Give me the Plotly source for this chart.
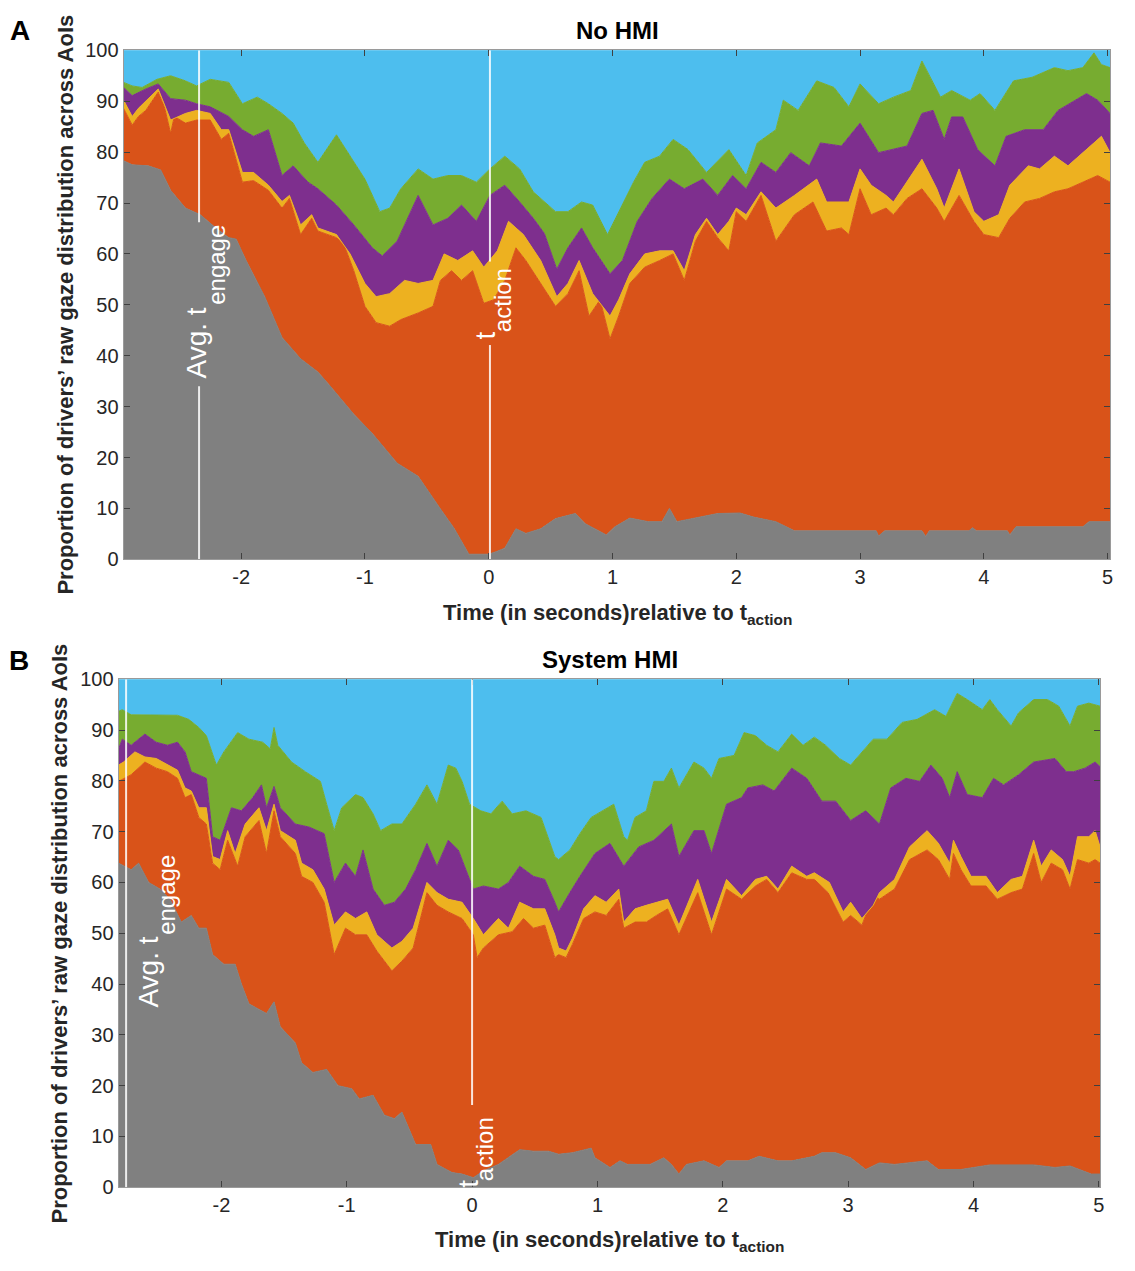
import plotly.graph_objects as go

# ---------------- Data (cumulative stack boundaries, % of drivers) ----------------
# Panel A: No HMI  -- (time s, upper boundary of each AoI layer)
A_gray = [(-2.95,78.3),(-2.88,77.5),(-2.75,77.3),(-2.65,76.5),(-2.57,72.5),(-2.45,69.0),(-2.33,67.7),(-2.2,65.0),
          (-2.1,63.2),(-2.04,62.9),(-1.96,58.7),(-1.81,51.6),(-1.67,43.6),(-1.52,39.4),(-1.38,36.8),(-1.29,34.3),
          (-1.09,28.5),(-0.94,24.7),(-0.74,18.9),(-0.57,16.3),(-0.39,9.9),(-0.28,6.1),(-0.16,1.0),(0.0,1.0),
          (0.06,1.5),(0.13,2.2),(0.22,6.0),(0.3,5.1),(0.42,6.0),(0.54,8.0),(0.7,9.0),(0.78,7.0),(0.95,4.8),
          (1.02,6.4),(1.14,8.1),(1.29,7.4),(1.4,7.4),(1.46,10.0),(1.52,7.4),(1.67,8.1),(1.85,9.0),(2.03,9.1),
          (2.14,8.3),(2.32,7.4),(2.47,5.6),(3.13,5.6),(3.15,4.6),(3.2,5.6),(3.5,5.6),(3.53,4.5),(3.56,5.6),
          (3.88,5.6),(3.91,6.2),(3.94,5.6),(4.19,5.6),(4.21,4.8),(4.26,6.4),(4.8,6.4),(4.85,7.4),(5.02,7.4)]
A_orange = [(-2.95,88.6),(-2.88,85.3),(-2.83,87.0),(-2.77,88.2),(-2.67,91.8),(-2.62,88.9),(-2.57,83.7),(-2.54,87.0),
            (-2.45,85.7),(-2.36,86.3),(-2.25,86.3),(-2.16,82.5),(-2.1,83.7),(-1.99,74.1),(-1.9,74.4),(-1.78,72.5),
            (-1.67,69.0),(-1.61,70.9),(-1.52,63.8),(-1.43,67.0),(-1.38,64.5),(-1.23,63.2),(-1.17,61.9),(-1.09,56.7),
            (-1.0,49.7),(-0.91,46.5),(-0.8,45.8),(-0.71,47.1),(-0.57,48.4),(-0.45,49.7),(-0.39,54.8),(-0.3,56.7),
            (-0.22,54.8),(-0.13,56.7),(-0.04,50.3),(0.04,51.0),(0.13,54.8),(0.22,61.2),(0.3,58.7),(0.42,54.2),
            (0.54,49.7),(0.64,52.2),(0.73,56.7),(0.81,47.8),(0.9,51.0),(0.98,43.3),(1.05,47.8),(1.14,54.2),
            (1.26,57.4),(1.38,58.7),(1.49,60.0),(1.58,54.8),(1.67,62.5),(1.76,66.4),(1.85,63.2),(1.94,60.6),
            (2.0,68.3),(2.08,66.4),(2.2,71.5),(2.32,62.5),(2.47,67.7),(2.62,70.2),(2.73,64.5),(2.85,65.1),
            (2.91,63.8),(3.0,72.8),(3.09,67.7),(3.21,69.0),(3.27,67.7),(3.38,70.9),(3.5,72.8),(3.62,69.0),
            (3.68,66.4),(3.8,71.5),(3.92,66.4),(4.0,63.8),(4.12,63.2),(4.21,67.0),(4.33,70.2),(4.45,70.9),
            (4.57,72.2),(4.68,72.8),(4.8,74.1),(4.92,75.4),(5.02,74.1)]
A_yellow = [(-2.95,90.2),(-2.88,87.0),(-2.83,88.6),(-2.67,92.4),(-2.57,86.3),(-2.45,87.6),(-2.36,88.2),(-2.25,87.6),
            (-2.16,84.4),(-2.1,84.4),(-1.99,76.0),(-1.9,76.0),(-1.78,73.5),(-1.67,70.3),(-1.61,71.5),(-1.52,65.7),
            (-1.43,67.7),(-1.38,65.1),(-1.23,63.8),(-1.12,60.0),(-1.0,54.2),(-0.91,51.6),(-0.8,52.2),(-0.68,54.8),
            (-0.57,54.2),(-0.45,54.8),(-0.36,60.0),(-0.25,58.7),(-0.13,60.6),(-0.04,57.4),(0.07,60.6),(0.16,66.4),
            (0.28,63.8),(0.42,58.7),(0.55,51.6),(0.64,54.2),(0.73,58.7),(0.84,52.2),(0.98,47.8),(1.05,51.0),
            (1.14,56.1),(1.26,60.0),(1.38,60.6),(1.49,60.6),(1.58,56.7),(1.67,63.8),(1.76,67.0),(1.85,63.8),
            (1.94,66.4),(2.0,69.0),(2.08,67.7),(2.2,72.2),(2.32,69.0),(2.47,71.5),(2.65,74.7),(2.73,70.2),
            (2.91,70.2),(3.0,76.7),(3.09,73.5),(3.21,71.5),(3.27,70.2),(3.38,74.1),(3.5,78.6),(3.62,72.8),
            (3.68,69.0),(3.8,76.7),(3.92,68.3),(4.0,66.4),(4.12,67.7),(4.21,73.5),(4.36,77.3),(4.45,76.7),
            (4.57,79.2),(4.68,77.3),(4.8,79.9),(4.95,83.1),(5.02,79.9)]
A_purple = [(-2.95,92.7),(-2.88,91.1),(-2.77,92.4),(-2.67,93.4),(-2.57,90.5),(-2.45,90.2),(-2.36,89.5),(-2.25,88.9),
            (-2.1,87.0),(-1.99,84.4),(-1.9,83.1),(-1.78,84.4),(-1.67,75.4),(-1.58,77.3),(-1.46,74.1),(-1.38,72.8),
            (-1.23,69.6),(-1.09,65.7),(-0.94,61.2),(-0.86,59.6),(-0.74,62.5),(-0.62,69.0),(-0.57,71.5),(-0.45,65.7),
            (-0.33,67.0),(-0.22,69.6),(-0.1,66.4),(0.01,71.5),(0.13,73.5),(0.25,70.2),(0.36,67.0),(0.45,64.0),
            (0.55,57.0),(0.64,61.2),(0.75,65.1),(0.84,61.2),(0.98,56.1),(1.08,58.7),(1.2,66.4),(1.32,70.9),
            (1.46,74.7),(1.58,72.8),(1.73,74.7),(1.85,71.5),(1.97,75.4),(2.08,72.8),(2.2,78.0),(2.32,76.0),
            (2.44,79.9),(2.59,77.3),(2.68,81.8),(2.85,81.2),(3.0,85.7),(3.15,79.9),(3.27,80.5),(3.38,81.2),
            (3.5,87.6),(3.59,88.2),(3.68,82.5),(3.74,86.9),(3.83,86.9),(3.95,80.5),(4.09,77.3),(4.18,83.1),
            (4.33,84.4),(4.48,84.4),(4.6,88.2),(4.74,90.2),(4.83,91.5),(4.92,90.2),(5.02,87.6)]
A_green = [(-2.95,93.7),(-2.88,93.0),(-2.8,92.7),(-2.68,94.3),(-2.57,95.0),(-2.45,94.0),(-2.36,93.0),(-2.25,94.3),
           (-2.1,93.7),(-1.99,89.5),(-1.87,90.8),(-1.78,89.5),(-1.67,87.6),(-1.58,85.7),(-1.49,81.8),(-1.38,78.0),
           (-1.23,83.4),(-1.12,79.2),(-1.0,74.7),(-0.88,68.3),(-0.8,69.0),(-0.71,72.8),(-0.57,76.7),(-0.45,74.7),
           (-0.33,75.4),(-0.22,75.4),(-0.1,74.1),(0.01,76.7),(0.13,79.2),(0.25,76.7),(0.36,72.2),(0.54,68.3),
           (0.64,68.3),(0.75,70.2),(0.84,69.6),(0.96,63.8),(1.05,68.3),(1.17,74.1),(1.26,78.0),(1.38,79.2),
           (1.49,82.5),(1.61,80.5),(1.76,76.0),(1.94,80.5),(2.08,75.4),(2.17,81.8),(2.32,84.4),(2.38,90.2),
           (2.5,88.2),(2.65,94.0),(2.79,92.7),(2.91,88.9),(3.0,93.4),(3.15,89.5),(3.27,90.8),(3.41,92.1),
           (3.5,97.9),(3.65,90.8),(3.74,92.1),(3.89,90.2),(3.97,91.5),(4.09,88.2),(4.24,94.0),(4.39,94.7),
           (4.57,96.6),(4.68,96.0),(4.8,96.6),(4.89,99.5),(4.95,97.2),(5.02,96.6)]

# Panel B: System HMI
B_gray = [(-2.82,63.8),(-2.72,62.5),(-2.66,63.8),(-2.58,60.0),(-2.49,58.7),(-2.41,56.7),(-2.32,52.2),(-2.24,53.5),
          (-2.18,51.0),(-2.12,51.0),(-2.07,45.8),(-1.98,43.9),(-1.89,43.9),(-1.84,40.0),(-1.78,36.1),(-1.64,34.2),
          (-1.58,36.5),(-1.53,31.6),(-1.41,28.4),(-1.36,24.5),(-1.27,22.6),(-1.16,23.2),(-1.07,20.0),(-0.96,19.4),
          (-0.90,17.4),(-0.79,18.1),(-0.70,14.2),(-0.62,13.5),(-0.56,14.8),(-0.45,8.4),(-0.33,8.4),(-0.28,4.5),
          (-0.16,2.9),(-0.08,2.6),(0.01,1.9),(0.09,3.2),(0.21,4.5),(0.29,5.8),(0.38,7.4),(0.49,7.1),(0.61,7.1),
          (0.69,6.5),(0.80,6.8),(0.95,7.7),(0.98,5.8),(1.10,3.9),(1.18,5.2),(1.24,4.5),(1.42,4.5),(1.53,5.8),
          (1.59,4.5),(1.65,2.6),(1.71,4.5),(1.85,5.2),(1.97,3.9),(2.03,5.2),(2.20,5.2),(2.29,6.1),(2.44,5.2),
          (2.55,5.2),(2.73,6.1),(2.79,6.8),(2.90,6.8),(3.02,5.8),(3.14,3.5),(3.25,4.8),(3.37,4.5),(3.55,5.0),
          (3.63,5.2),(3.72,3.5),(3.90,3.5),(4.13,4.4),(4.48,4.4),(4.65,3.9),(4.77,4.2),(4.94,2.6),(5.01,2.6)]
B_orange = [(-2.82,79.9),(-2.72,81.2),(-2.61,83.7),(-2.52,82.5),(-2.43,81.8),(-2.35,80.5),(-2.29,76.7),(-2.24,77.3),
            (-2.18,72.8),(-2.12,71.5),(-2.07,63.8),(-2.01,62.5),(-1.95,68.3),(-1.87,63.2),(-1.81,69.0),(-1.70,72.2),
            (-1.64,65.7),(-1.58,74.1),(-1.53,69.0),(-1.41,65.7),(-1.36,61.2),(-1.27,60.0),(-1.18,56.1),(-1.10,45.8),
            (-1.01,51.0),(-0.93,49.7),(-0.84,49.7),(-0.76,46.5),(-0.64,42.6),(-0.56,44.5),(-0.47,47.1),(-0.36,58.0),
            (-0.28,55.5),(-0.19,54.2),(-0.08,52.9),(0.01,49.7),(0.04,45.2),(0.09,47.1),(0.21,49.7),(0.32,50.3),
            (0.41,52.9),(0.49,51.0),(0.58,51.6),(0.66,45.2),(0.69,45.8),(0.75,45.2),(0.80,47.8),(0.89,52.9),
            (0.98,54.2),(1.07,53.5),(1.17,56.7),(1.21,51.0),(1.30,52.2),(1.39,52.2),(1.47,53.5),(1.56,54.8),
            (1.65,49.7),(1.80,58.0),(1.91,49.7),(2.03,58.7),(2.15,56.7),(2.26,59.3),(2.35,60.6),(2.44,58.0),
            (2.55,61.9),(2.67,60.6),(2.73,60.6),(2.84,58.0),(2.96,52.2),(3.02,53.5),(3.11,51.6),(3.20,57.4),
            (3.25,56.7),(3.37,58.7),(3.49,64.5),(3.63,66.4),(3.72,64.5),(3.81,60.6),(3.84,65.7),(3.90,62.5),
            (3.98,59.3),(4.10,59.3),(4.19,56.7),(4.30,58.0),(4.39,58.7),(4.48,65.7),(4.54,60.0),(4.62,63.8),
            (4.71,62.5),(4.77,58.7),(4.83,64.5),(4.92,63.8),(4.97,64.5),(5.01,63.8)]
B_yellow = [(-2.82,83.1),(-2.78,83.7),(-2.69,85.7),(-2.61,84.7),(-2.52,84.4),(-2.43,83.1),(-2.35,82.1),(-2.29,78.6),
            (-2.24,78.0),(-2.18,74.7),(-2.12,74.7),(-2.07,65.1),(-2.01,64.5),(-1.95,70.2),(-1.89,65.7),(-1.81,71.5),
            (-1.70,74.7),(-1.64,70.2),(-1.58,75.4),(-1.53,70.2),(-1.41,68.3),(-1.36,63.8),(-1.27,62.5),(-1.18,58.7),
            (-1.10,51.6),(-1.01,54.2),(-0.93,52.9),(-0.84,54.2),(-0.76,49.7),(-0.64,47.1),(-0.56,48.4),(-0.47,51.0),
            (-0.36,60.0),(-0.28,58.0),(-0.19,56.7),(-0.08,56.1),(0.01,52.9),(0.09,49.7),(0.21,52.9),(0.29,51.0),
            (0.38,56.1),(0.49,54.8),(0.58,54.8),(0.66,49.7),(0.69,47.1),(0.75,46.5),(0.80,49.0),(0.89,54.8),
            (0.98,57.4),(1.07,56.1),(1.17,58.7),(1.21,52.2),(1.30,54.8),(1.39,55.5),(1.48,56.1),(1.56,56.7),
            (1.65,51.6),(1.80,60.6),(1.91,52.2),(2.03,60.6),(2.15,57.4),(2.26,60.6),(2.35,61.2),(2.44,58.7),
            (2.55,63.2),(2.67,61.2),(2.73,61.9),(2.85,60.0),(2.96,54.2),(3.02,56.1),(3.11,52.9),(3.20,55.5),
            (3.25,58.0),(3.37,60.6),(3.49,67.0),(3.63,70.2),(3.72,67.7),(3.81,63.8),(3.84,68.3),(3.90,65.1),
            (3.98,61.2),(4.10,61.2),(4.19,58.0),(4.30,60.6),(4.39,61.2),(4.48,68.3),(4.54,63.2),(4.62,66.4),
            (4.71,64.5),(4.77,61.2),(4.83,69.0),(4.92,69.0),(4.97,70.2),(5.01,67.0)]
B_purple = [(-2.82,86.3),(-2.79,88.2),(-2.72,87.0),(-2.61,89.2),(-2.52,87.6),(-2.43,87.0),(-2.35,87.6),(-2.29,85.7),
            (-2.24,81.8),(-2.12,80.5),(-2.07,69.0),(-2.01,68.3),(-1.92,74.7),(-1.84,74.1),(-1.75,76.7),(-1.68,79.2),
            (-1.64,74.7),(-1.58,78.9),(-1.53,74.7),(-1.41,71.5),(-1.30,70.9),(-1.18,69.6),(-1.10,60.0),(-1.01,63.8),
            (-0.93,61.2),(-0.87,66.4),(-0.79,58.7),(-0.70,55.5),(-0.62,56.1),(-0.53,58.7),(-0.45,62.5),(-0.36,67.7),
            (-0.28,63.2),(-0.19,68.3),(-0.11,66.4),(-0.05,62.5),(0.01,58.7),(0.09,59.3),(0.21,58.7),(0.29,60.0),
            (0.38,63.2),(0.49,61.2),(0.58,60.6),(0.66,56.1),(0.69,54.2),(0.78,58.0),(0.86,61.2),(0.98,65.7),
            (1.10,67.7),(1.21,63.2),(1.33,67.0),(1.45,68.3),(1.59,71.5),(1.65,65.1),(1.77,70.2),(1.85,70.2),
            (1.91,65.7),(2.03,75.4),(2.15,76.7),(2.20,78.6),(2.32,79.2),(2.41,78.0),(2.55,82.5),(2.67,80.5),
            (2.79,76.0),(2.90,76.0),(3.02,72.2),(3.14,74.1),(3.25,71.5),(3.34,78.6),(3.46,80.5),(3.57,79.9),
            (3.66,83.1),(3.75,80.5),(3.81,76.7),(3.87,81.8),(3.95,77.3),(4.07,76.7),(4.16,80.5),(4.24,79.2),
            (4.36,81.2),(4.48,83.7),(4.65,84.4),(4.74,81.8),(4.80,81.8),(4.89,82.5),(4.97,83.7),(5.01,82.8)]
B_green = [(-2.82,93.7),(-2.79,94.0),(-2.72,93.0),(-2.35,92.9),(-2.26,92.1),(-2.18,90.5),(-2.12,88.9),(-2.04,83.1),
           (-1.98,85.7),(-1.87,89.5),(-1.78,88.2),(-1.67,87.6),(-1.61,86.3),(-1.58,90.5),(-1.55,87.0),(-1.44,83.7),
           (-1.33,81.8),(-1.21,79.9),(-1.16,75.4),(-1.10,70.2),(-1.04,74.7),(-0.93,77.3),(-0.87,76.7),(-0.79,73.5),
           (-0.73,70.2),(-0.64,71.5),(-0.56,71.5),(-0.45,75.4),(-0.36,79.2),(-0.28,75.4),(-0.19,83.1),(-0.13,82.5),
           (-0.08,79.9),(-0.02,75.4),(0.07,74.1),(0.15,73.5),(0.24,76.0),(0.32,73.5),(0.43,74.1),(0.55,72.8),
           (0.66,65.1),(0.69,64.5),(0.78,66.4),(0.86,69.6),(0.95,72.8),(1.04,74.1),(1.13,75.4),(1.21,69.0),
           (1.24,68.3),(1.30,72.8),(1.39,74.1),(1.45,79.9),(1.53,79.9),(1.59,82.5),(1.65,78.6),(1.77,83.7),
           (1.85,82.5),(1.91,80.5),(1.97,84.4),(2.09,85.0),(2.17,89.5),(2.26,88.9),(2.35,87.0),(2.44,85.7),
           (2.55,89.2),(2.64,87.0),(2.73,88.6),(2.82,87.0),(2.93,84.4),(3.02,83.1),(3.11,85.7),(3.20,88.2),
           (3.31,88.2),(3.43,91.5),(3.55,92.1),(3.69,94.0),(3.78,92.7),(3.87,97.2),(3.95,96.0),(4.07,94.0),
           (4.13,96.0),(4.19,94.0),(4.30,90.8),(4.36,93.4),(4.48,96.0),(4.59,96.0),(4.68,94.7),(4.77,90.8),
           (4.83,94.7),(4.92,95.3),(5.01,94.7)]

X_RANGE_A = [-2.95, 5.02]
X_RANGE_B = [-2.82, 5.01]
X_TICKS = [-2, -1, 0, 1, 2, 3, 4, 5]
X_TICKTEXT = ["-2", "-1", "0", "1", "2", "3", "4", "5"]
Y_TICKS = [0, 10, 20, 30, 40, 50, 60, 70, 80, 90, 100]
T_ENGAGE_A = -2.34
T_ACTION_A = 0.01
T_ENGAGE_B = -2.76
T_ACTION_B = 0.0

COLORS = ["#808080", "#D95319", "#EDB120", "#7E2F8E", "#77AC30", "#4DBEEE"]

W, H = 1135, 1271
fig = go.Figure()

def add_panel(series, xr, xa, ya):
    for i, s in enumerate(series):
        xs = [p[0] for p in s]
        ys = [p[1] for p in s]
        fig.add_trace(go.Scatter(x=xs, y=ys, mode="lines", xaxis=xa, yaxis=ya,
                                 line=dict(color=COLORS[i], width=1),
                                 fill="tozeroy" if i == 0 else "tonexty",
                                 fillcolor=COLORS[i], hoverinfo="skip", showlegend=False))
    # remaining share (blue) up to 100 %
    fig.add_trace(go.Scatter(x=xr, y=[100, 100], mode="lines", xaxis=xa, yaxis=ya,
                             line=dict(color=COLORS[5], width=1), fill="tonexty",
                             fillcolor=COLORS[5], hoverinfo="skip", showlegend=False))

add_panel([A_gray, A_orange, A_yellow, A_purple, A_green], X_RANGE_A, "x", "y")
add_panel([B_gray, B_orange, B_yellow, B_purple, B_green], X_RANGE_B, "x2", "y2")

def px_x(p):
    return p / W

def px_y(p):
    return 1 - p / H

FONT = "Liberation Sans, Arial, Helvetica"
axis_common = dict(showgrid=False, zeroline=False, ticks="inside", ticklen=6, tickwidth=1,
                   tickcolor="#404040", showline=True, linecolor="#9a9a9a", linewidth=1,
                   mirror="ticks", tickfont=dict(family=FONT, size=20, color="#262626"))

fig.update_layout(
    width=W, height=H, margin=dict(l=0, r=0, t=0, b=0),
    paper_bgcolor="white", plot_bgcolor="white",
    xaxis=dict(domain=[px_x(124), px_x(1114)], range=X_RANGE_A, tickvals=X_TICKS, ticktext=X_TICKTEXT,
               anchor="y", **axis_common),
    yaxis=dict(domain=[px_y(558), px_y(40)], range=[0, 100], tickvals=Y_TICKS, anchor="x", **axis_common),
    xaxis2=dict(domain=[px_x(119), px_x(1104)], range=X_RANGE_B, tickvals=X_TICKS, ticktext=X_TICKTEXT,
                anchor="y2", **axis_common),
    yaxis2=dict(domain=[px_y(1197), px_y(680)], range=[0, 100], tickvals=Y_TICKS, anchor="x2", **axis_common),
)

# white marker lines (with gaps for labels)
line_style = dict(color="rgba(255,255,255,0.85)", width=2)
shapes = [
    dict(type="line", xref="x", yref="y", x0=T_ENGAGE_A, x1=T_ENGAGE_A, y0=66.2, y1=100, line=line_style),
    dict(type="line", xref="x", yref="y", x0=T_ENGAGE_A, x1=T_ENGAGE_A, y0=0, y1=34.0, line=line_style),
    dict(type="line", xref="x", yref="y", x0=T_ACTION_A, x1=T_ACTION_A, y0=58.5, y1=100, line=line_style),
    dict(type="line", xref="x", yref="y", x0=T_ACTION_A, x1=T_ACTION_A, y0=0, y1=42.1, line=line_style),
    dict(type="line", xref="x2", yref="y2", x0=T_ENGAGE_B, x1=T_ENGAGE_B, y0=0, y1=100, line=line_style),
    dict(type="line", xref="x2", yref="y2", x0=T_ACTION_B, x1=T_ACTION_B, y0=16.2, y1=100, line=line_style),
]
fig.update_layout(shapes=shapes)

ann = []

def text_at(text, x, y, size, color="black", angle=0):
    ann.append(dict(text=text, x=px_x(x), y=px_y(y), xref="paper", yref="paper", showarrow=False,
                    xanchor="center", yanchor="middle", textangle=angle,
                    font=dict(family=FONT, size=size, color=color)))

# panel letters
text_at("<b>A</b>", 20, 20, 28)
text_at("<b>B</b>", 19, 661, 28)
# titles
text_at("<b>No HMI</b>", 620, 20, 24)
text_at("<b>System HMI</b>", 612, 660, 24)
# axis titles
ytitle = "<b>Proportion of drivers’ raw gaze distribution across AoIs</b>"
text_at(ytitle, 66, 299, 22, "#262626", -90)
text_at(ytitle, 60, 939, 22, "#262626", -90)
xtitle = "<b>Time (in seconds)relative to t<sub>action</sub></b>"
text_at(xtitle, 620, 614, 22, "#262626")
text_at(xtitle, 612, 1252, 22, "#262626")
# event labels (white, rotated)
text_at("Avg. t", 197, 338, 28, "white", -90)
text_at("engage", 217, 258, 24, "white", -90)
text_at("t", 487, 330, 28, "white", -90)
text_at("action", 505, 294, 24, "white", -90)
text_at("Avg. t", 149, 978, 28, "white", -90)
text_at("engage", 167, 899, 24, "white", -90)
text_at("t", 470, 1193, 28, "white", -90)
text_at("action", 487, 1158, 24, "white", -90)
fig.update_layout(annotations=ann)

fig.write_html("out.html")
